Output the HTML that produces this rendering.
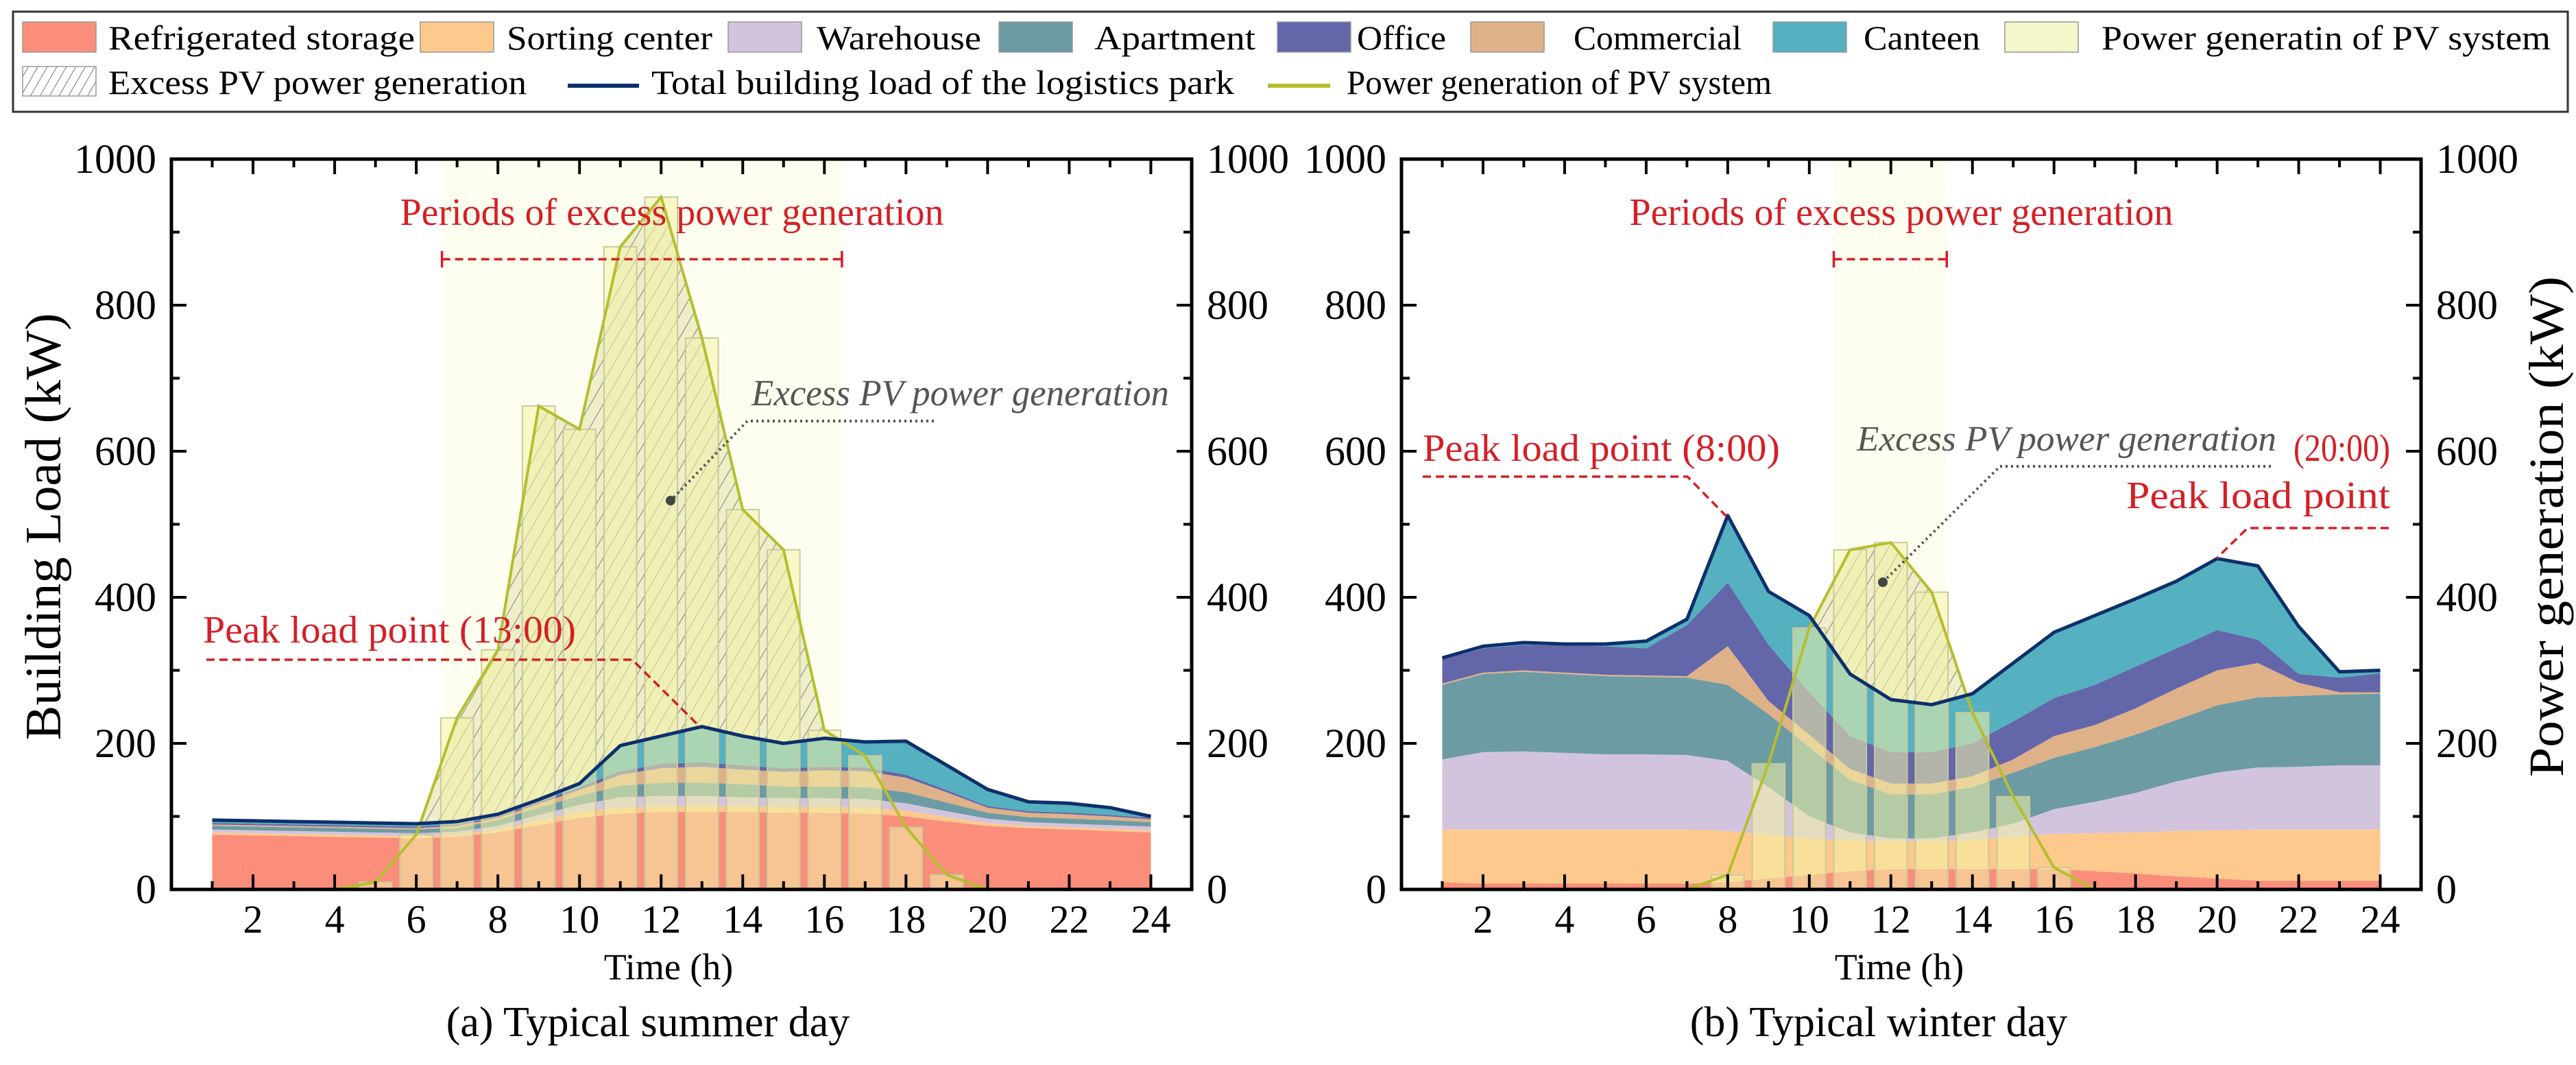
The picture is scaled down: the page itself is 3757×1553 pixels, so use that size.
<!DOCTYPE html>
<html><head><meta charset="utf-8"><style>
html,body{margin:0;padding:0;background:#fff;}
svg{display:block;font-family:"Liberation Serif",serif;}
</style></head><body>
<svg id="chart" width="3757" height="1553" viewBox="0 0 3757 1553" xmlns="http://www.w3.org/2000/svg">
<defs>
<pattern id="hatch" patternUnits="userSpaceOnUse" width="16" height="16" patternTransform="rotate(30)">
<rect width="16" height="16" fill="#eeeec8"/>
<line x1="0" y1="0" x2="0" y2="16" stroke="#8a8a80" stroke-width="2.2"/>
</pattern>
<pattern id="hatchLeg" patternUnits="userSpaceOnUse" width="12" height="12" patternTransform="rotate(30)">
<rect width="12" height="12" fill="#fff"/>
<line x1="0" y1="0" x2="0" y2="12" stroke="#777" stroke-width="2"/>
</pattern>
</defs>
<g id="legend">
<rect x="19" y="17" width="3726" height="146" fill="#fff" stroke="#333" stroke-width="3"/>
</g>
<g id="panels"></g>
</svg>
<script>
// ---------- data: hours ----------
const hours = [1,2,3,4,5,6,7,8,9,10,11,12,13,14,15,16,17,18,19,20,21,22,23,24];
// Summer layers (kW)
const sumRefrigerated = [75,74,73,72,71,70,72,78,88,98,104,106,106,106,105,105,104,100,93,87,84,82,80,78];
const sumSorting = [3,3,3,3,3,3,3,4,6,8,8,8,8,8,8,8,8,8,6,4,3,3,3,3];
const sumWarehouse = [4,4,4,4,4,4,4,5,8,10,14,14,14,12,12,12,12,10,8,6,5,5,5,5];
const sumApartment = [5,5,5,5,5,5,5,8,10,12,16,18,18,18,16,16,16,15,12,8,7,7,7,6];
const sumCommercial = [2,2,2,2,2,2,3,3,5,8,15,20,22,20,20,22,22,20,14,7,6,6,5,4];
const sumOffice = [2,2,2,2,2,2,2,2,3,4,5,6,6,6,5,5,5,4,3,2,2,2,2,2];
const sumCanteen = [4,4,4,4,4,4,4,3,3,5,35,38,49,40,34,39,35,46,34,23,13,13,10,2];
// Summer PV
const sumPvHours = [4,5,6,7,8,9,10,11,12,13,14,15,16,17,18,19,20];
const sumPv = [0,10,75,235,328,662,630,880,948,755,520,465,218,183,85,20,0];
// Winter layers (kW)
const winRefrigerated = [10,8,8,8,8,8,8,10,15,20,25,28,28,28,28,28,25,22,18,15,12,12,12,12];
const winSorting = [72,74,74,74,74,74,74,70,60,50,42,38,38,40,44,48,52,56,62,66,70,70,70,70];
const winWarehouse = [96,106,107,105,103,103,102,96,65,30,11,4,4,10,18,34,43,54,68,79,85,86,88,88];
const winApartment = [102,107,109,108,107,106,106,104,100,95,72,60,60,62,70,70,75,80,84,92,96,97,97,98];
const winCommercial = [2,2,2,2,2,2,2,53,18,17,15,15,15,15,18,30,30,36,43,48,47,18,3,2];
const winOffice = [33,33,35,37,39,37,70,87,77,58,45,43,43,45,52,52,55,57,55,55,32,12,20,26];
const winCanteen = [2,3,3,2,3,10,8,92,73,105,85,72,65,68,80,90,95,93,92,98,101,65,8,4];
// Winter PV
const winPvHours = [7,8,9,10,11,12,13,14,15,16,17];
const winPv = [0,20,172,358,465,475,407,242,127,30,0];
// Excess periods (h)
const sumPeriod = [6.63,16.43];
const winPeriod = [10.6,13.37];
// Axis ticks
const xTickLabels = [2,4,6,8,10,12,14,16,18,20,22,24];
const yTickLabels = [0,200,400,600,800,1000];

const layerNames = ['refrigerated-storage','sorting-center','warehouse','apartment','commercial','office','canteen'];
const layerColors = ['#fa8e7a','#fec98c','#d3c4de','#6c9ba4','#dfb189','#6466aa','#55b0bf'];

const NS='http://www.w3.org/2000/svg';
const root=document.getElementById('panels');
function mk(tag,attrs,parent){const e=document.createElementNS(NS,tag);for(const k in attrs)e.setAttribute(k,attrs[k]);(parent||root).appendChild(e);return e;}

// ---------- legend ----------
const leg=document.getElementById('legend');
const legItems=[
 ['Refrigerated storage',33,158,447,0,'#fa8e7a'],['Sorting center',613,739,300,0,'#fec98c'],
 ['Warehouse',1062,1191,240,0,'#d3c4de'],['Apartment',1457,1596,235,0,'#6c9ba4'],
 ['Office',1863,1979,130,0,'#6466aa'],['Commercial',2145,2295,245,0,'#dfb189'],
 ['Canteen',2586,2718,170,0,'#55b0bf'],['Power generatin of PV system',2924,3065,655,0,'#f4f6cc']];
legItems.forEach(it=>{
 const r=mk('rect',{x:it[1],y:32,width:107,height:44,fill:it[5],stroke:'#999','stroke-width':1.5},leg);
 
 
 const t=mk('text',{x:it[2],y:72,'font-size':50,textLength:it[3],lengthAdjust:'spacingAndGlyphs'},leg);
 t.textContent=it[0];
 
 
});
{
 const r=mk('rect',{x:33,y:97,width:107,height:43,fill:'url(#hatchLeg)',stroke:'#999','stroke-width':1.5},leg);
 
 
 const l1=mk('line',{x1:828,y1:125,x2:932,y2:125,stroke:'#0d2f6b','stroke-width':6},leg);
 
 
 const l2=mk('line',{x1:1849,y1:125,x2:1940,y2:125,stroke:'#b5be2e','stroke-width':6},leg);
 
 
 [['Excess PV power generation',158,610],['Total building load of the logistics park',950,850],['Power generation of PV system',1964,620]].forEach(a=>{
  const t=mk('text',{x:a[1],y:137,'font-size':50,textLength:a[2],lengthAdjust:'spacingAndGlyphs'},leg);
  t.textContent=a[0];
  
  
 });
}

// ---------- panels ----------
const Y0=1297,Y1=232;
function drawPanel(p){
 const g=mk('g',{});
 
 
 const xs=h=>p.x0+(h/25)*(p.x1-p.x0);
 const ys=v=>Y0-(v/1000)*(Y0-Y1);
 const id=p.name;
 const band=mk('rect',{x:xs(p.period[0]),y:Y1,width:xs(p.period[1])-xs(p.period[0]),height:Y0-Y1,fill:'#fefef0'},g);
 
 
 const cum=hours.map(()=>0);
 p.layers.forEach((arr,li)=>{
  const lower=cum.slice();
  arr.forEach((v,i)=>cum[i]+=v);
  let d='M'+hours.map((h,i)=>xs(h)+','+ys(cum[i])).join('L');
  for(let i=hours.length-1;i>=0;i--)d+='L'+xs(hours[i])+','+ys(lower[i]);
  const a=mk('path',{d:d+'Z',fill:layerColors[li]},g);
  
  
 });
 const total=cum.slice();
 const cp=mk('clipPath',{id:'clip-'+id},g);
 let cd='M'+xs(hours[0])+','+Y1+'L'+hours.map((h,i)=>xs(h)+','+ys(total[i])).join('L')+'L'+xs(hours[hours.length-1])+','+Y1+'Z';
 mk('path',{d:cd},cp);
 let pd='M'+xs(p.pvH[0])+','+Y0+'L'+p.pvH.map((h,i)=>xs(h)+','+ys(p.pv[i])).join('L')+'L'+xs(p.pvH[p.pvH.length-1])+','+Y0+'Z';
 const hz=mk('path',{d:pd,fill:'url(#hatch)','clip-path':'url(#clip-'+id+')'},g);
 
 
 const bw=0.8*(p.x1-p.x0)/25;
 p.pvH.forEach((h,i)=>{
  if(p.pv[i]<=0)return;
  const b=mk('rect',{x:xs(h)-bw/2,y:ys(p.pv[i]),width:bw,height:Y0-ys(p.pv[i]),fill:'#f2f2a8','fill-opacity':0.55,stroke:'#c9c99a','stroke-width':2},g);
  
  
 });
 const pl=mk('polyline',{points:p.pvH.map((h,i)=>xs(h)+','+ys(p.pv[i])).join(' '),fill:'none',stroke:'#b5be2e','stroke-width':4},g);
 
 
 const tl=mk('polyline',{points:hours.map((h,i)=>xs(h)+','+ys(total[i])).join(' '),fill:'none',stroke:'#0d2f6b','stroke-width':5,'stroke-linejoin':'round'},g);
 
 
 const fr=mk('rect',{x:p.x0,y:Y1,width:p.x1-p.x0,height:Y0-Y1,fill:'none',stroke:'#000','stroke-width':5},g);
 
 
 for(let h=1;h<=24;h++){
  const L=h%2===0?22:12;
  mk('line',{x1:xs(h),y1:Y0,x2:xs(h),y2:Y0-L,stroke:'#000','stroke-width':4},g);
  mk('line',{x1:xs(h),y1:Y1,x2:xs(h),y2:Y1+L,stroke:'#000','stroke-width':4},g);
 }
 for(let v=100;v<1000;v+=100){
  const L=v%200===0?22:12;
  mk('line',{x1:p.x0,y1:ys(v),x2:p.x0+L,y2:ys(v),stroke:'#000','stroke-width':4},g);
  mk('line',{x1:p.x1,y1:ys(v),x2:p.x1-L,y2:ys(v),stroke:'#000','stroke-width':4},g);
 }
 xTickLabels.forEach(h=>{
  const t=mk('text',{x:xs(h),y:1360,'font-size':58,'text-anchor':'middle'},g);
  t.textContent=h;
  
  
 });
 yTickLabels.forEach(v=>{
  const t=mk('text',{x:p.x0-22,y:ys(v)+20,'font-size':60,'text-anchor':'end'},g);
  t.textContent=v;
  
  
  const t2=mk('text',{x:p.x1+22,y:ys(v)+20,'font-size':60},g);
  t2.textContent=v;
  
  
 });
 const xt=mk('text',{x:p.xtitle,y:1428,'font-size':54,'text-anchor':'middle'},g);
 xt.textContent='Time (h)';
 
 
 const cap=mk('text',{x:p.capx,y:1511,'font-size':62,'text-anchor':'middle'},g);
 cap.textContent=p.caption;
 
 
 const pt=mk('text',{x:p.ptx,y:328,'font-size':56,fill:'#d42026','text-anchor':'middle'},g);
 pt.textContent='Periods of excess power generation';
 
 
 const xa=xs(p.period[0]),xb=xs(p.period[1]);
 mk('line',{x1:xa,y1:378,x2:xb,y2:378,stroke:'#d42026','stroke-width':3.5,'stroke-dasharray':'12 7'},g);
 mk('line',{x1:xa,y1:366,x2:xa,y2:390,stroke:'#d42026','stroke-width':3.5},g);
 mk('line',{x1:xb,y1:366,x2:xb,y2:390,stroke:'#d42026','stroke-width':3.5},g);
 return g;
}

const gS=drawPanel({name:'summer-panel',x0:250,x1:1738,layers:[sumRefrigerated,sumSorting,sumWarehouse,sumApartment,sumCommercial,sumOffice,sumCanteen],pvH:sumPvHours,pv:sumPv,period:sumPeriod,xtitle:975,capx:945,caption:'(a) Typical summer day',ptx:980});
const gW=drawPanel({name:'winter-panel',x0:2044,x1:3531,layers:[winRefrigerated,winSorting,winWarehouse,winApartment,winCommercial,winOffice,winCanteen],pvH:winPvHours,pv:winPv,period:winPeriod,xtitle:2770,capx:2740,caption:'(b) Typical winter day',ptx:2773});

function ann(g,txt,x,y,size,fill,italic,len,name){
 const t=mk('text',{x:x,y:y,'font-size':size,fill:fill,textLength:len,lengthAdjust:'spacingAndGlyphs'},g);
 if(italic)t.setAttribute('font-style','italic');
 t.textContent=txt;
 
 
}
function pl(g,pts,color,dash,w){mk('polyline',{points:pts,fill:'none',stroke:color,'stroke-width':w||3.5,'stroke-dasharray':dash},g);}
ann(gS,'Excess PV power generation',1096,591,54,'#555',true,609,'excess-pv-label');
pl(gS,'1362,614 1090,614 978,730','#555','3 5',4);
mk('circle',{cx:978,cy:730,r:7,fill:'#444'},gS);
ann(gS,'Peak load point (13:00)',296,937,56,'#d42026',false,544,'peak-load-label');
pl(gS,'301,962 922,962 1021,1060','#d42026','12 7');
ann(gW,'Excess PV power generation',2708,657,52,'#555',true,612,'excess-pv-label');
pl(gW,'3312,680 2917,680 2746,849','#555','3 5',4);
mk('circle',{cx:2746,cy:849,r:7,fill:'#444'},gW);
ann(gW,'Peak load point (8:00)',2075,672,56,'#d42026',false,521,'peak-load-label-morning');
pl(gW,'2075,695 2461,695 2518,753','#d42026','12 7');
ann(gW,'(20:00)',3345,672,56,'#d42026',false,141,'peak-load-time-evening');
ann(gW,'Peak load point',3101,741,56,'#d42026',false,385,'peak-load-label-evening');
pl(gW,'3484,770 3278,770 3233,814','#d42026','12 7');

const yl=mk('text',{x:0,y:0,'font-size':74,'text-anchor':'middle',transform:'translate(88,768) rotate(-90)',textLength:623,lengthAdjust:'spacingAndGlyphs'},gS);
yl.textContent='Building Load (kW)';


const yr=mk('text',{x:0,y:0,'font-size':72,'text-anchor':'middle',transform:'translate(3738,768) rotate(-90)',textLength:730,lengthAdjust:'spacingAndGlyphs'},gW);
yr.textContent='Power generation (kW)';


</script>
</body></html>
